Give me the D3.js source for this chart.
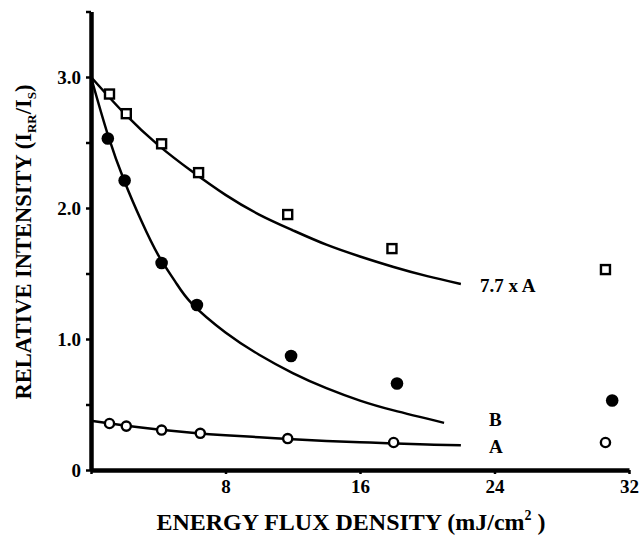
<!DOCTYPE html>
<html>
<head>
<meta charset="utf-8">
<script src="https://cdn.jsdelivr.net/npm/d3@7"></script>
<style>
  body { margin: 0; background: #fff; }
  text { font-family: "Liberation Serif", "DejaVu Serif", serif; font-weight: bold; fill: #000; }
</style>
</head>
<body>
<svg id="chart" width="642" height="536"></svg>
<script>
// measured points (energy flux density, relative intensity)
const fluxA = [1.1, 2.1, 4.2, 6.5, 11.7, 18.0, 30.6];
const valA = [0.355, 0.335, 0.305, 0.28, 0.24, 0.21, 0.21];
const fluxScaled = [1.1, 2.1, 4.2, 6.4, 11.7, 17.9, 30.6];
const valScaled = [2.87, 2.72, 2.49, 2.27, 1.95, 1.69, 1.53];
const fluxB = [1.0, 2.0, 4.2, 6.3, 11.9, 18.2, 31.0];
const valB = [2.53, 2.21, 1.58, 1.26, 0.87, 0.66, 0.53];

// fitted curves
const curveX = [0, 2, 4, 6, 8, 10, 12, 14, 16, 18, 20, 22];
const curveScaled = [3.0, 2.72, 2.48, 2.28, 2.10, 1.95, 1.83, 1.72, 1.63, 1.55, 1.48, 1.42];
const curveA = [0.375, 0.34, 0.31, 0.285, 0.265, 0.25, 0.235, 0.222, 0.212, 0.203, 0.195, 0.188];
const curveBX = [0, 1, 2, 3, 4, 5, 6, 8, 10, 12, 14, 16, 18, 21];
const curveB = [3.0, 2.56, 2.2, 1.9, 1.64, 1.44, 1.27, 1.05, 0.88, 0.74, 0.625, 0.53, 0.455, 0.36];

const yTicks = [0, 0.5, 1, 1.5, 2, 2.5, 3, 3.5];
const yLabels = {0: "0", 1: "1.0", 2: "2.0", 3: "3.0"};
const xTicks = [0, 8, 16, 24, 32];

const svg = d3.select("#chart");
const x = d3.scaleLinear().domain([0, 32]).range([91, 629]);
const y = d3.scaleLinear().domain([0, 3.5]).range([470, 11.5]);

// axes
const yAxis = d3.axisLeft(y).tickValues(yTicks).tickSize(5).tickSizeOuter(0)
  .tickFormat(d => yLabels[d] || "");
const gy = svg.append("g").attr("transform", "translate(91,0)").call(yAxis);
gy.select(".domain").attr("stroke-width", 4.5);
gy.selectAll(".tick line").attr("stroke-width", 2.5);
gy.selectAll(".tick text").attr("font-size", 19).attr("x", -10)
  .style("font-family", "Liberation Serif").style("font-weight", "bold");

const xAxis = d3.axisBottom(x).tickValues(xTicks).tickSize(4).tickSizeOuter(0)
  .tickFormat(d => d === 0 ? "" : d);
const gx = svg.append("g").attr("transform", "translate(0,470)").call(xAxis);
gx.select(".domain").attr("stroke-width", 4.5);
gx.selectAll(".tick line").attr("stroke-width", 2.5);
gx.selectAll(".tick text").attr("font-size", 19).attr("y", 10)
  .style("font-family", "Liberation Serif").style("font-weight", "bold");

// fitted curves
const line = d3.line().x(d => x(d[0])).y(d => y(d[1])).curve(d3.curveNatural);
const curves = [
  d3.zip(curveX, curveScaled),
  d3.zip(curveX, curveA),
  d3.zip(curveBX, curveB)
];
svg.selectAll("path.fit").data(curves).enter().append("path")
  .attr("class", "fit")
  .attr("d", line)
  .attr("fill", "none")
  .attr("stroke", "#000")
  .attr("stroke-width", 2.5);

// markers
svg.selectAll("rect.sq").data(d3.zip(fluxScaled, valScaled)).enter().append("rect")
  .attr("class", "sq")
  .attr("x", d => x(d[0]) - 4.5)
  .attr("y", d => y(d[1]) - 4.5)
  .attr("width", 9).attr("height", 9)
  .attr("fill", "#fff").attr("stroke", "#000").attr("stroke-width", 2.4);

svg.selectAll("circle.open").data(d3.zip(fluxA, valA)).enter().append("circle")
  .attr("class", "open")
  .attr("cx", d => x(d[0])).attr("cy", d => y(d[1])).attr("r", 4.6)
  .attr("fill", "#fff").attr("stroke", "#000").attr("stroke-width", 2.4);

svg.selectAll("circle.fill").data(d3.zip(fluxB, valB)).enter().append("circle")
  .attr("class", "fill")
  .attr("cx", d => x(d[0])).attr("cy", d => y(d[1])).attr("r", 6.3)
  .attr("fill", "#000");

// curve labels
svg.append("text").attr("x", 480).attr("y", 292).attr("font-size", 19).text("7.7 x A");
svg.append("text").attr("x", 489).attr("y", 426).attr("font-size", 19).text("B");
svg.append("text").attr("x", 489).attr("y", 453).attr("font-size", 19).text("A");

// axis titles
svg.append("text")
  .attr("x", 351).attr("y", 530)
  .attr("text-anchor", "middle")
  .attr("font-size", 24)
  .call(t => {
    t.append("tspan").text("ENERGY FLUX DENSITY (mJ/cm");
    t.append("tspan").attr("font-size", 14).attr("dy", -10).text("2");
    t.append("tspan").attr("dy", 10).text(" )");
  });

svg.append("text")
  .attr("transform", "translate(31,242) rotate(-90)")
  .attr("text-anchor", "middle")
  .attr("font-size", 22.5)
  .call(t => {
    t.append("tspan").text("RELATIVE INTENSITY (I");
    t.append("tspan").attr("font-size", 13).attr("dy", 5).text("RR");
    t.append("tspan").attr("dy", -5).text("/I");
    t.append("tspan").attr("font-size", 13).attr("dy", 5).text("S");
    t.append("tspan").attr("dy", -5).text(")");
  });
</script>
</body>
</html>
